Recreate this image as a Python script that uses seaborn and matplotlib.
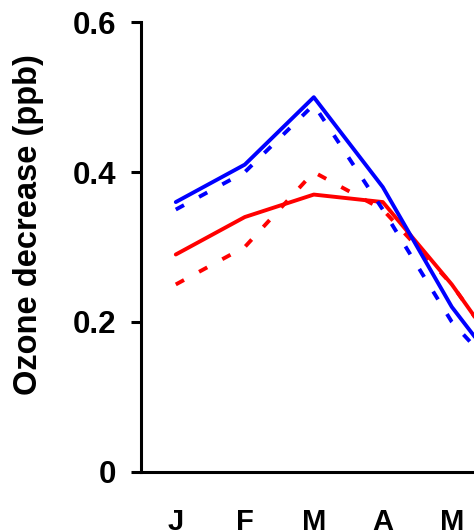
import numpy as np
import pandas as pd
import matplotlib
matplotlib.use("Agg")
import matplotlib.pyplot as plt
import seaborn as sns

# Monthly ozone decrease (ppb), January through June
months = ["J", "F", "M", "A", "M", "J"]
red_solid = [0.29, 0.34, 0.37, 0.36, 0.25, 0.12]
red_dashed = [0.25, 0.30, 0.40, 0.35, 0.25, 0.12]
blue_solid = [0.36, 0.41, 0.50, 0.38, 0.22, 0.10]
blue_dashed = [0.35, 0.40, 0.49, 0.35, 0.20, 0.10]
y_ticks = [0, 0.2, 0.4, 0.6]
y_tick_labels = ["0", "0.2", "0.4", "0.6"]

sns.set_style("white")
plt.rcParams["font.family"] = ["Liberation Sans", "DejaVu Sans"]
plt.rcParams["font.weight"] = "bold"
for key in ["text.color", "axes.labelcolor", "xtick.color", "ytick.color"]:
    plt.rcParams[key] = "black"

rows = []
for group, run, vals in [
    ("red", "solid", red_solid),
    ("red", "dashed", red_dashed),
    ("blue", "solid", blue_solid),
    ("blue", "dashed", blue_dashed),
]:
    for i, v in enumerate(vals):
        rows.append({"month": i, "ozone": v, "group": group, "run": run})
df = pd.DataFrame(rows)

fig = plt.figure(figsize=(4.74, 5.31), dpi=100)
# Axes runs past the right edge of the canvas, so the last segments are cut off
ax = fig.add_axes([141.3 / 474, 59.3 / 531, 414 / 474, 449.4 / 531])

sns.lineplot(
    data=df, x="month", y="ozone", hue="group", style="run",
    palette={"red": "#ff0000", "blue": "#0000ff"},
    dashes={"solid": "", "dashed": (2.4, 4.4)},
    hue_order=["red", "blue"], style_order=["dashed", "solid"],
    lw=2.8, legend=False, ax=ax,
)

ax.set_xlim(-0.5, 5.5)
ax.set_ylim(0, 0.6)
ax.set_xticks(range(len(months)))
ax.set_xticklabels(months, fontsize=21, fontweight="bold")
ax.set_yticks(y_ticks)
ax.set_yticklabels(y_tick_labels, fontsize=22.5, fontweight="bold")
ax.tick_params(axis="x", length=0, pad=26)
ax.tick_params(axis="y", length=7, width=2.2, pad=11, direction="out", left=True)

for side in ["top", "right"]:
    ax.spines[side].set_visible(False)
for side in ["left", "bottom"]:
    ax.spines[side].set_linewidth(2.2)
    ax.spines[side].set_color("black")

ax.set_xlabel("")
ax.set_ylabel("Ozone decrease (ppb)", fontsize=23.5, fontweight="bold")
ax.yaxis.set_label_coords((44 - 141.3) / 414, (471.7 - 224.7) / 449.4)

fig.savefig("out.png", dpi=100)
